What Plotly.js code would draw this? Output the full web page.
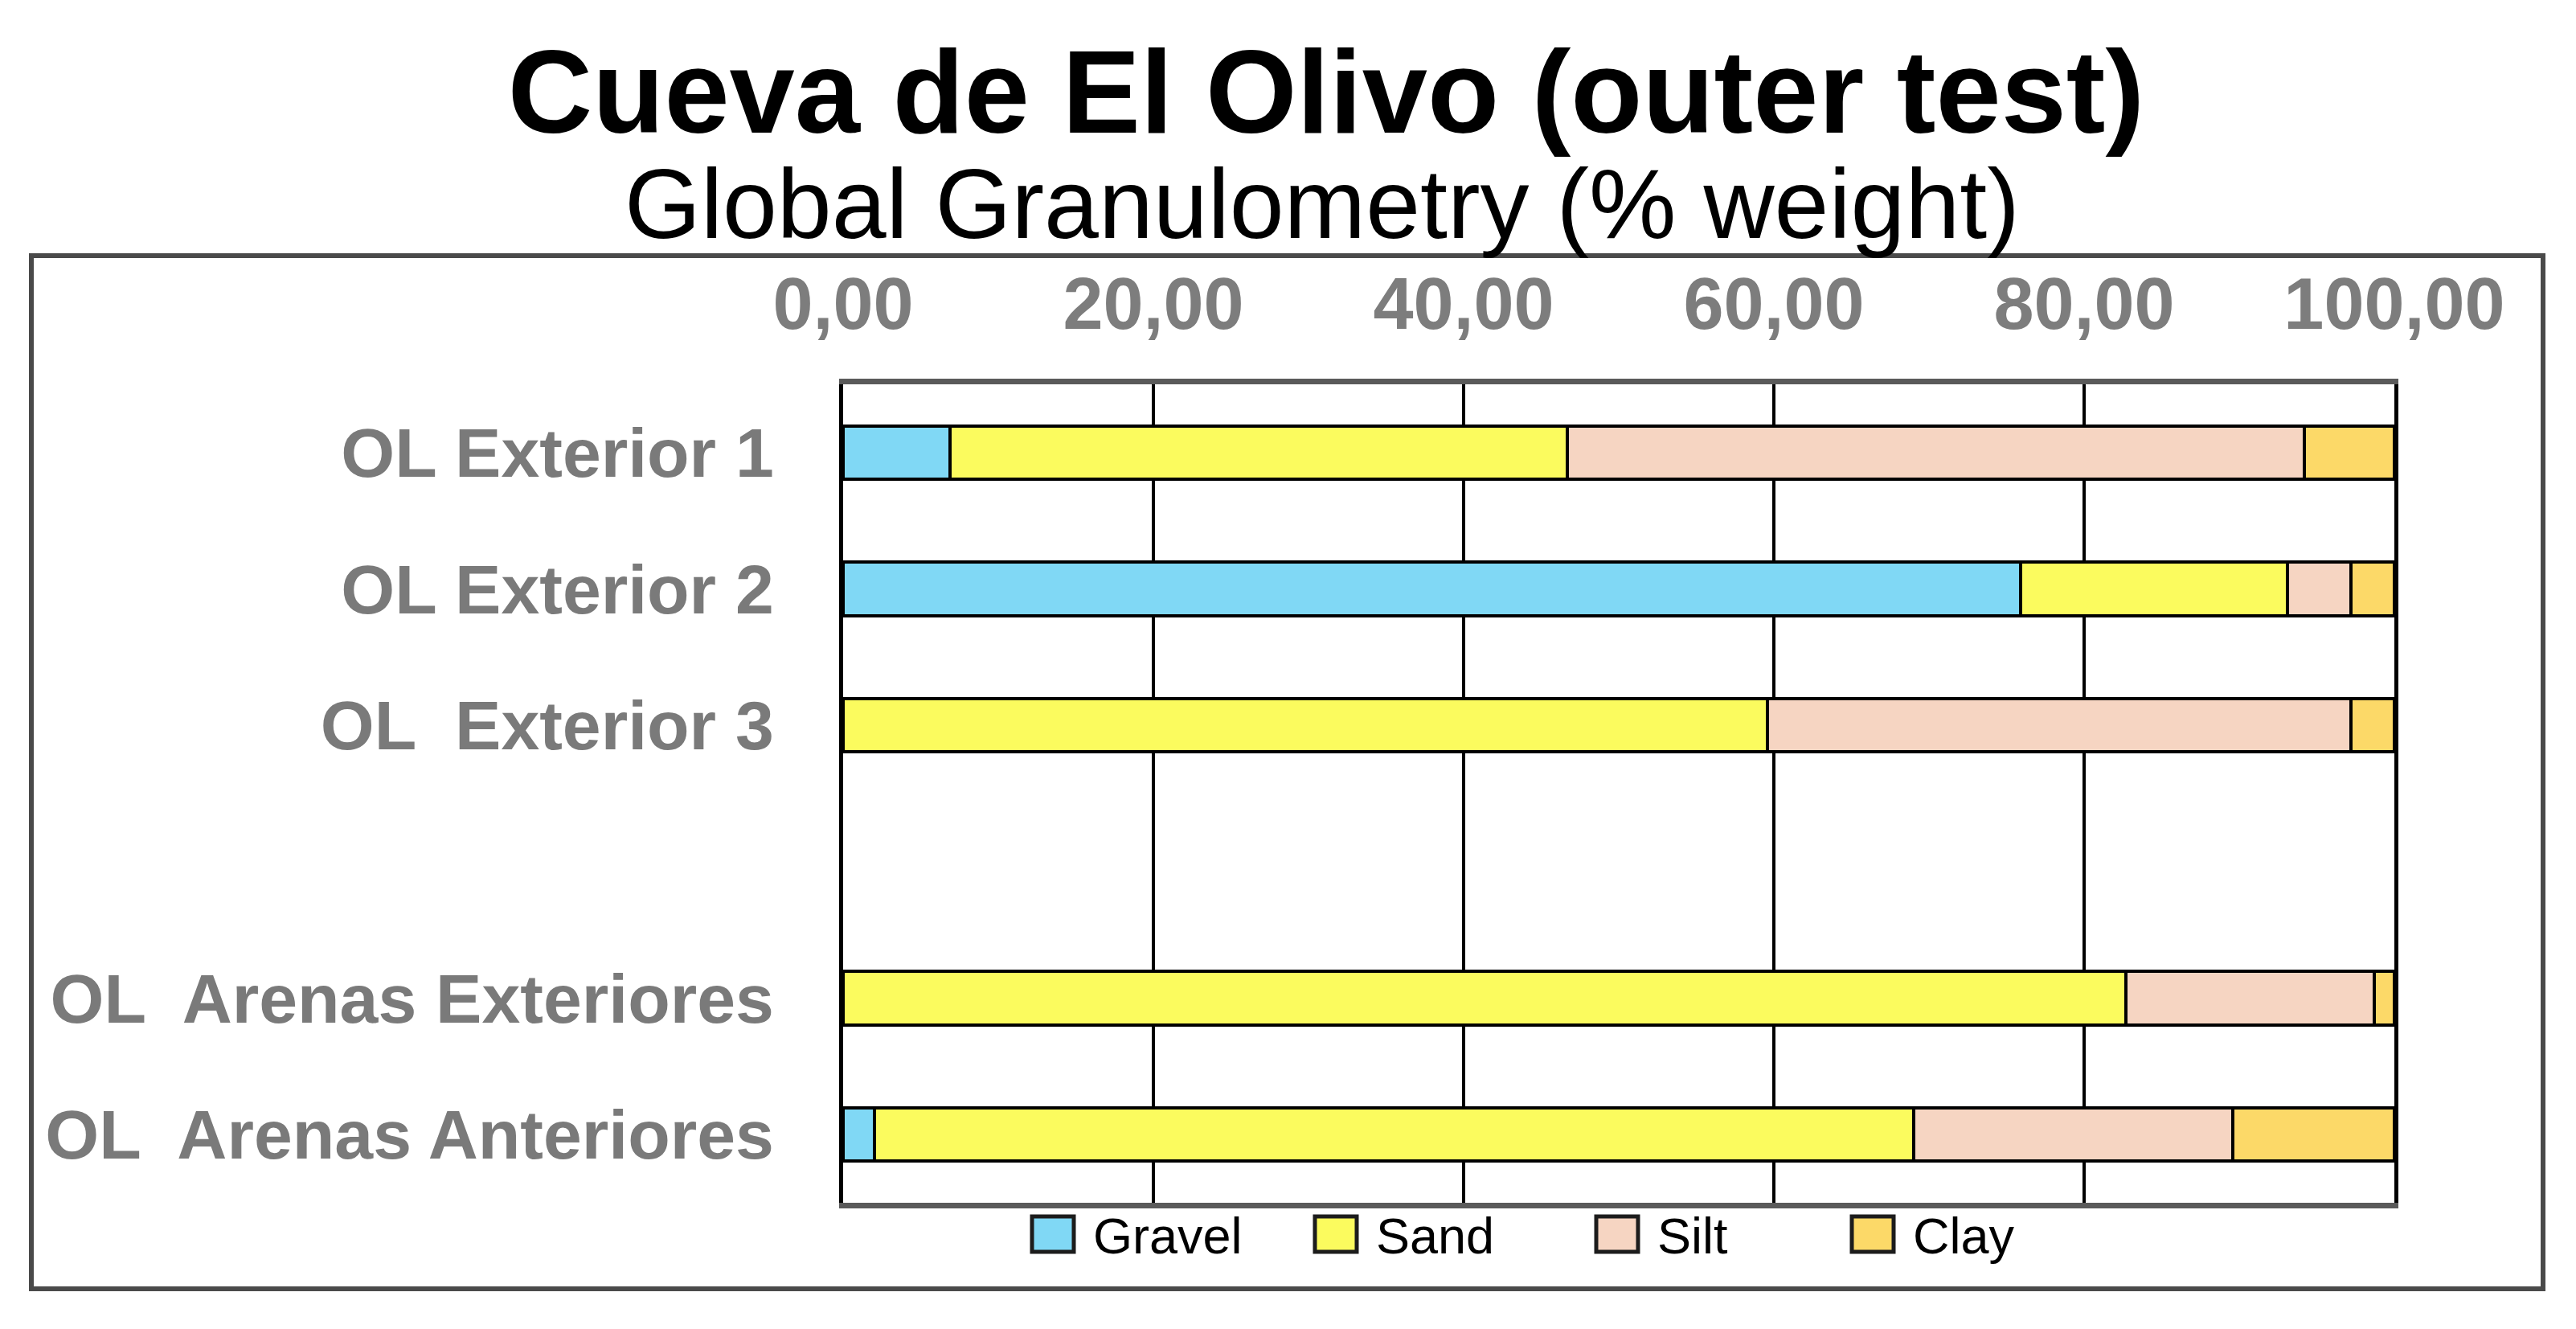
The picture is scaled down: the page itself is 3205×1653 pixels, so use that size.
<!DOCTYPE html>
<html>
<head>
<meta charset="utf-8">
<script src="https://cdn.plot.ly/plotly-3.0.1.min.js"></script>
<style>html,body{margin:0;padding:0;background:#fff;}#chart{width:3205px;height:1653px;}</style>
</head>
<body>
<div id="chart"></div>
<script>
// ---- data ----
const categories = ["OL Exterior 1", "OL Exterior 2", "OL\u00a0 Exterior 3", "OL\u00a0 Arenas Exteriores", "OL\u00a0 Arenas Anteriores"];
const axisSlots = ["OL Exterior 1", "OL Exterior 2", "OL\u00a0 Exterior 3", " ", "OL\u00a0 Arenas Exteriores", "OL\u00a0 Arenas Anteriores"];
const seriesNames = ["Gravel", "Sand", "Silt", "Clay"];
const gravel = [6.9, 75.9, 0, 0, 2.0];
const sand   = [39.8, 17.2, 59.6, 82.7, 67.0];
const silt   = [47.5, 4.1, 37.6, 16.0, 20.6];
const clay   = [5.8, 2.8, 2.8, 1.3, 10.4];
const tickValues = [0, 20, 40, 60, 80, 100];
const tickLabels = ["0,00", "20,00", "40,00", "60,00", "80,00", "100,00"];
const titleText = "Cueva de El Olivo (outer test)";
const subtitleText = "Global Granulometry (% weight)";

// ---- styles ----
const colors = ["#80d8f5", "#fbfb5e", "#f6d5c2", "#fcd968"];
const FONT = 'Liberation Sans, Arial, sans-serif';
const W = 3205, H = 1653;
const M = {l: 1049, r: 226, t: 478, b: 157};
const PW = W - M.l - M.r, PH = H - M.t - M.b;
const px2x = p => (p - M.l) / PW;
const px2y = p => (H - M.b - p) / PH;

const values = [gravel, sand, silt, clay];
const traces = seriesNames.map((name, i) => ({
  type: 'bar', orientation: 'h', name: name,
  y: categories, x: values[i],
  marker: {color: colors[i], line: {color: '#000', width: 4}},
  showlegend: false, hoverinfo: 'skip'
}));

// manual legend (large swatches) and outer frame
const legendSquareLeft = [1284, 1636, 1986, 2304];
const shapes = [{
  type: 'rect', xref: 'paper', yref: 'paper', layer: 'below',
  x0: px2x(39), x1: px2x(3164), y0: px2y(1603), y1: px2y(318),
  line: {color: '#4a4a4a', width: 6}, fillcolor: 'rgba(0,0,0,0)'
}];
const annotations = [{
  xref: 'paper', yref: 'paper', x: px2x(1645), y: px2y(254),
  xanchor: 'center', yanchor: 'middle', showarrow: false, text: subtitleText,
  font: {family: FONT, size: 122, color: '#000'}
}];
seriesNames.forEach((name, i) => {
  const x0 = legendSquareLeft[i];
  shapes.push({
    type: 'rect', xref: 'paper', yref: 'paper',
    x0: px2x(x0), x1: px2x(x0 + 52), y0: px2y(1557), y1: px2y(1513),
    line: {color: '#1c1c1c', width: 5}, fillcolor: colors[i]
  });
  annotations.push({
    xref: 'paper', yref: 'paper', x: px2x(x0 + 74), y: px2y(1537),
    xanchor: 'left', yanchor: 'middle', showarrow: false, text: name,
    font: {family: FONT, size: 63, color: '#000'}
  });
});

const layout = {
  width: W, height: H,
  margin: M,
  paper_bgcolor: '#fff', plot_bgcolor: '#fff',
  barmode: 'stack', bargap: 0.61,
  showlegend: false,
  title: {
    text: '<b>' + titleText + '</b>',
    font: {family: FONT, size: 146, color: '#000'},
    x: 0.5148, xref: 'container', xanchor: 'center',
    y: 0.962, yref: 'container', yanchor: 'top'
  },
  xaxis: {
    side: 'top', range: [0, 100], tickvals: tickValues, ticktext: tickLabels,
    showgrid: true, gridcolor: '#000', gridwidth: 4, zeroline: false,
    showline: true, mirror: true, linecolor: '#5a5a5a', linewidth: 7,
    ticks: '', ticklabelstandoff: 26,
    tickfont: {family: FONT, size: 90, color: '#7d7d7d', weight: 'bold'}
  },
  yaxis: {
    type: 'category', categoryorder: 'array', categoryarray: axisSlots,
    range: [5.5, -0.5], showgrid: false, zeroline: false,
    showline: true, mirror: true, linecolor: '#000', linewidth: 5,
    ticks: '', ticklabelstandoff: 64,
    tickfont: {family: FONT, size: 86, color: '#7a7a7a', weight: 'bold'}
  },
  shapes: shapes,
  annotations: annotations
};

Plotly.newPlot('chart', traces, layout, {staticPlot: true, displayModeBar: false});
</script>
</body>
</html>
